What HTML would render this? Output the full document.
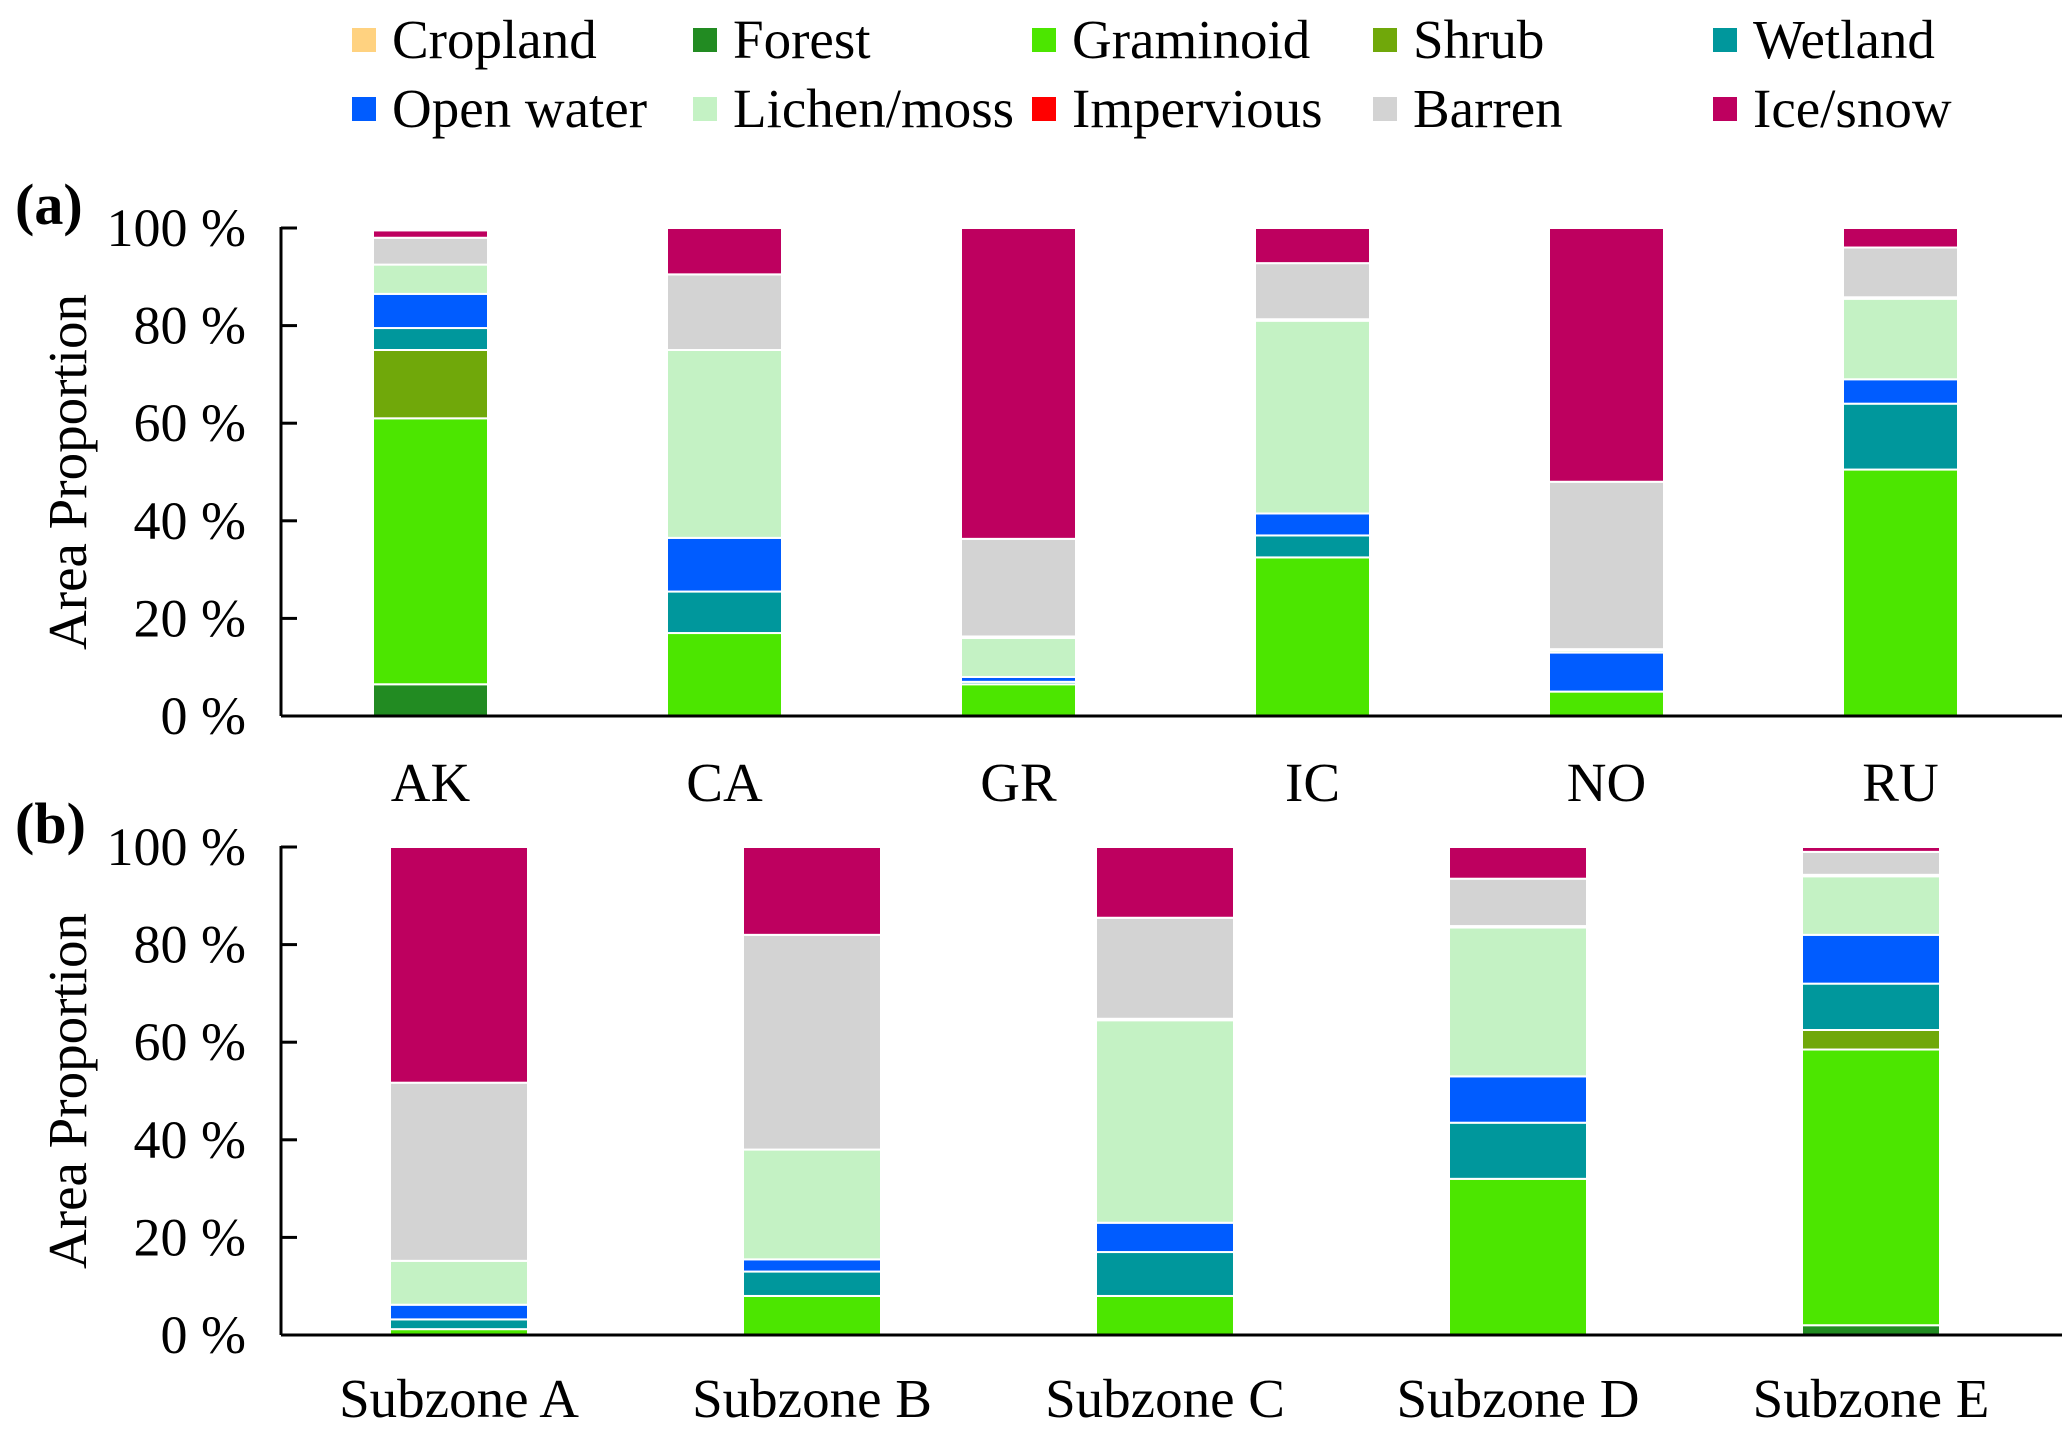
<!DOCTYPE html>
<html><head><meta charset="utf-8"><style>
body{margin:0;background:#fff}
svg{display:block}
text{font-family:"Liberation Serif",serif;fill:#000}
</style></head><body>
<svg id="chart" width="2067" height="1439" viewBox="0 0 2067 1439"></svg>
<script>
const classes=["Cropland","Forest","Graminoid","Shrub","Wetland","Open water","Lichen/moss","Impervious","Barren","Ice/snow"];
const colors=["#FFD280","#228B22","#4CE600","#70A80A","#00979C","#005CFF","#C4F2C4","#FF0000","#D3D3D3","#BE005F"];
const regionsA=["AK","CA","GR","IC","NO","RU"];
const valuesA=[
 [0,6.5,54.5,14,4.5,7,6,0,5.5,1.5],
 [0,0,17,0,8.5,11,38.5,0,15.5,9.5],
 [0,0,6.5,0,0.5,1,8,0.3,20,63.7],
 [0,0,32.5,0,4.5,4.5,39.5,0.3,11.5,7.2],
 [0,0,5,0,0,8,0.5,0.2,34.3,52],
 [0,0,50.5,0,13.5,5,16.5,0.3,10.2,4]
];
const zonesB=["Subzone A","Subzone B","Subzone C","Subzone D","Subzone E"];
const valuesB=[
 [0,0,1.2,0,2,3,9,0,36.5,48.3],
 [0,0,8,0,5,2.5,22.5,0,44,18],
 [0,0,8,0,9,6,41.5,0.3,20.7,14.5],
 [0,0,32,0,11.5,9.5,30.5,0.3,9.7,6.5],
 [0,2,56.5,4,9.5,10,12,0.3,4.7,1]
];
const yTicks=[0,20,40,60,80,100];
const NS="http://www.w3.org/2000/svg";
const svg=document.getElementById('chart');
function el(tag,attrs,parent){const e=document.createElementNS(NS,tag);for(const k in attrs)e.setAttribute(k,attrs[k]);(parent||svg).appendChild(e);return e;}

const legX=[352,693,1032,1373,1713],legY=[40,109];
classes.forEach((c,i)=>{
  const g=el('g',{});
  
  
  const x=legX[i%5],y=legY[Math.floor(i/5)];
  el('rect',{x:x,y:y-12,width:24,height:24,fill:colors[i]},g);
  const t=el('text',{x:x+40,y:y+18,'font-size':55},g);t.textContent=c;
});

function panel(opts){
  const {cats,vals,top,bot,x0,bar0,step,bw,label,lblY,name}=opts;
  const g=el('g',{});
  
  
  const y=v=>bot-(bot-top)*v/100;
  cats.forEach((c,ci)=>{
    let acc=0;const bx=bar0+ci*step;
    vals[ci].forEach((v,k)=>{
      if(v<=0)return;
      const r=el('rect',{x:bx,y:y(acc+v),width:bw,height:Math.max(y(acc)-y(acc+v),1),fill:colors[k],stroke:'#fff','stroke-width':2},g);
      
      
      acc+=v;
    });
    const t=el('text',{x:bx+bw/2,y:lblY,'font-size':55,'text-anchor':'middle'},g);t.textContent=c;
  });
  el('line',{x1:x0,y1:top-1,x2:x0,y2:bot,stroke:'#000','stroke-width':3},g);
  el('line',{x1:x0,y1:bot,x2:2062,y2:bot,stroke:'#000','stroke-width':3},g);
  yTicks.forEach(v=>{
    el('line',{x1:x0,y1:y(v),x2:x0+16,y2:y(v),stroke:'#000','stroke-width':3},g);
    const t=el('text',{x:246,y:y(v)+18,'font-size':54,'text-anchor':'end'},g);t.textContent=v+' %';
  });
  const ty=el('text',{x:0,y:0,'font-size':55,'text-anchor':'middle',transform:`translate(86,${(top+bot)/2}) rotate(-90)`},g);
  ty.textContent='Area Proportion';
  const pl=el('text',{x:15,y:top-4,'font-size':58,'font-weight':'bold'},g);pl.textContent=label;
}
panel({cats:regionsA,vals:valuesA,top:228,bot:716,x0:281,bar0:373,step:294,bw:115,label:'(a)',lblY:801,name:'panel-a-regions'});
panel({cats:zonesB,vals:valuesB,top:847,bot:1335,x0:281,bar0:390,step:353,bw:138,label:'(b)',lblY:1417,name:'panel-b-subzones'});
</script>
</body></html>
